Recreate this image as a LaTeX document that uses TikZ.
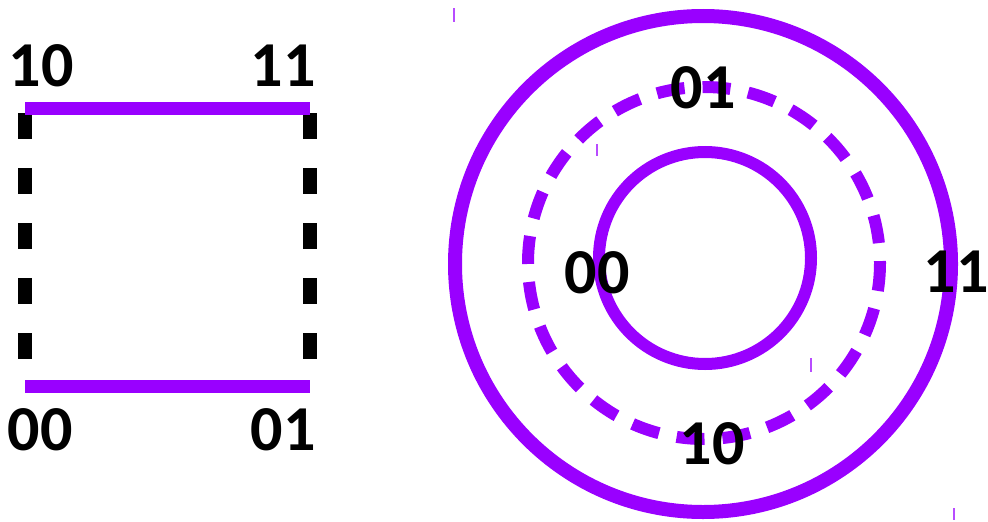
\documentclass[tikz,border=0pt]{standalone}
\usepackage{fontspec}
\setmainfont{Carlito}
\usetikzlibrary{positioning,calc}
\definecolor{violet}{RGB}{153,0,255}
\tikzset{
	lbl/.style = {font=\fontsize{64}{70}\selectfont\bfseries, inner sep=0pt},
	edge/.style = {draw=violet, line width=13pt},
	link/.style = {draw=black, line width=14pt, dash pattern=on 26pt off 29pt},
	ring/.style = {draw=violet, line width=14pt},
	tick/.style = {draw=violet!70, line width=2pt}
}
\begin{document}
\begin{tikzpicture}[x=1pt, y=-1pt]
		\useasboundingbox (0,0) rectangle (988,522);
		% square
		\coordinate (sw) at (25,386);
		\coordinate (se) at (310,386);
		\coordinate (nw) at (25,108);
		\coordinate (ne) at (310,108);
		\draw[link] ($(nw)+(0,5)$) -- (sw);
		\draw[link] ($(ne)+(0,5)$) -- (se);
		\draw[edge] (nw) -- (ne);
		\draw[edge] (sw) -- (se);
		\node[lbl] (q10) at (41,66) {10};
		\node[lbl] (q11) at (283,66) {11};
		\node[lbl] (q00) at (40,430) {00};
		\node[lbl] (q01) at (283,430) {01};
		% rings
		\draw[ring] (703,264) circle (248);
		\draw[ring, line width=12pt, dash pattern=on 28pt off 18pt] (704,263) circle (176);
		\draw[ring, line width=12pt] (705,258) circle (106);
		\node[lbl] (r01) at (703,88) {01};
		\node[lbl] (r00) at (597,273) {00};
		\node[lbl] (r11) at (956,272) {11};
		\node[lbl] (r10) at (712,444) {10};
		% stray marks
		\draw[tick] (454,8) -- (454,22);
		\draw[tick] (597,144) -- (597,156);
		\draw[tick] (811,358) -- (811,372);
		\draw[tick] (954,508) -- (954,520);
	\end{tikzpicture}
\end{document}
